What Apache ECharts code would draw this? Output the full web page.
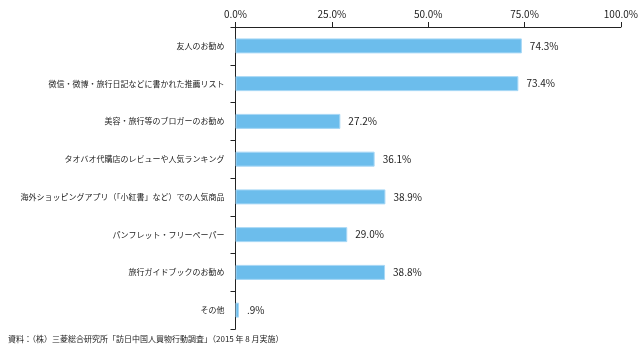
<!DOCTYPE html>
<html>
<head>
<meta charset="utf-8">
<script src="https://cdn.jsdelivr.net/npm/echarts@6/dist/echarts.min.js"></script>
<style>
  html, body { margin: 0; padding: 0; background: #fff; }
  #chart { width: 641px; height: 353px; }
</style>
</head>
<body>
<div id="chart"></div>
<script>
const categories = [
  '友人のお勧め',
  '微信・微博・旅行日記などに書かれた推薦リスト',
  '美容・旅行等のブロガーのお勧め',
  'タオバオ代購店のレビューや人気ランキング',
  '海外ショッピングアプリ（「小紅書」など）での人気商品',
  'パンフレット・フリーペーパー',
  '旅行ガイドブックのお勧め',
  'その他'
];
const values = [74.3, 73.4, 27.2, 36.1, 38.9, 29.0, 38.8, 0.9];
const sourceNote = '資料：（株）三菱総合研究所「訪日中国人買物行動調査」（2015 年 8 月実施）';

const font = '"Noto Sans CJK JP", "Noto Sans", sans-serif';
const chart = echarts.init(document.getElementById('chart'));

// 0.9 -> ".9%", like the original
const fmtPct = v => {
  let s = v.toFixed(1);
  if (s.startsWith('0.') && v !== 0) s = s.slice(1);
  return s + '%';
};

chart.setOption({
  animation: false,
  grid: { left: 235.5, right: 19.5, top: 27, bottom: 24 },
  xAxis: {
    type: 'value',
    position: 'top',
    min: 0,
    max: 100,
    interval: 25,
    axisLine: { show: true, lineStyle: { color: '#222', width: 1 } },
    axisTick: { show: true, length: 5, lineStyle: { color: '#222' } },
    axisLabel: {
      color: '#222', fontSize: 10, fontFamily: font, margin: 8,
      formatter: v => v.toFixed(1) + '%'
    },
    splitLine: { show: false }
  },
  yAxis: {
    type: 'category',
    data: categories,
    inverse: true,
    axisLine: { show: true, lineStyle: { color: '#222', width: 1 } },
    axisTick: { show: true, length: 5, lineStyle: { color: '#222' } },
    axisLabel: { color: '#222', fontSize: 8, fontFamily: font, margin: 11 }
  },
  series: [{
    type: 'bar',
    data: values,
    barWidth: 15,
    itemStyle: { color: '#6cbdec', borderColor: '#a8d8f6', borderWidth: 1 },
    label: {
      show: true,
      position: 'right',
      distance: 8,
      color: '#222',
      fontSize: 10,
      fontFamily: font,
      formatter: p => fmtPct(p.value)
    }
  }],
  graphic: [{
    type: 'text',
    left: 8,
    top: 335,
    style: { text: sourceNote, fill: '#222', fontSize: 8, fontFamily: font }
  }]
});
</script>
</body>
</html>
